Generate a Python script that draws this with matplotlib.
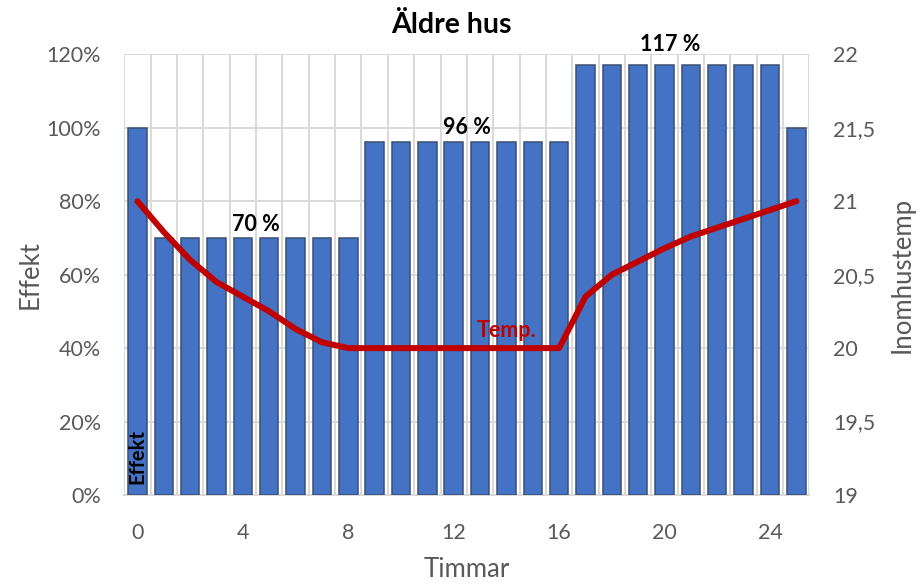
import matplotlib
matplotlib.use("Agg")
import matplotlib.pyplot as plt
from matplotlib.ticker import FuncFormatter, MultipleLocator

plt.rcParams['font.family'] = ['Lato', 'DejaVu Sans']

# Hourly heating power (fraction of nominal) and indoor temperature
hours = list(range(26))
effekt = [1.00] + [0.70] * 8 + [0.96] * 8 + [1.17] * 8 + [1.00]
temp = [21.0, 20.79, 20.60, 20.45, 20.35, 20.25, 20.13, 20.04, 20.0,
        20.0, 20.0, 20.0, 20.0, 20.0, 20.0, 20.0, 20.0,
        20.35, 20.50, 20.59, 20.68, 20.76, 20.82, 20.88, 20.94, 21.0]
x_ticks = [0, 4, 8, 12, 16, 20, 24]
level_x = [4.5, 12.5, 20.2]
level_values = [0.70, 0.96, 1.17]
level_text = ["70 %", "96 %", "117 %"]

BAR = "#4472C4"
BAR_EDGE = "#3A5070"
RED = "#C00000"
GRID = "#D9D9D9"
TXT = "#595959"

fig = plt.figure(figsize=(9.18, 5.84), dpi=100)
ax = fig.add_axes([0.1354, 0.1524, 0.8818 - 0.1354, 0.907 - 0.1524])

ax.bar(hours, effekt, width=0.70, color=BAR, edgecolor=BAR_EDGE,
       linewidth=1.1, zorder=3)
ax.set_xlim(-0.5, 25.5)
ax.set_ylim(0, 1.2)
ax.yaxis.set_major_locator(MultipleLocator(0.2))
ax.yaxis.set_major_formatter(FuncFormatter(lambda v, p: f"{v*100:.0f}%"))
ax.set_xticks(x_ticks)

# Gridlines at category boundaries and at every percentage step
for b in [h + 0.5 for h in range(-1, 26)]:
    ax.axvline(b, color=GRID, lw=1.4, zorder=1)
ax.grid(axis='y', color=GRID, lw=1.4, zorder=1)
ax.set_axisbelow(True)

for s in ax.spines.values():
    s.set_visible(False)
ax.spines['bottom'].set_visible(True)
ax.spines['bottom'].set_color(GRID)
ax.spines['bottom'].set_linewidth(1.4)

ax.tick_params(axis='both', length=0, labelsize=15.5, labelcolor=TXT)
ax.tick_params(axis='y', pad=17)
ax.tick_params(axis='x', pad=20)

ax.set_ylabel("Effekt", fontsize=18.5, color=TXT, va='center')
ax.yaxis.set_label_coords(-0.1375, 0.5)
ax.set_xlabel("Timmar", fontsize=18.5, color=TXT, labelpad=10)

ax2 = ax.twinx()
ax2.plot(hours, temp, color=RED, lw=4.3, solid_joinstyle='round',
         solid_capstyle='round', zorder=4)
ax2.set_ylim(19, 22)
ax2.yaxis.set_major_locator(MultipleLocator(0.5))
ax2.yaxis.set_major_formatter(
    FuncFormatter(lambda v, p: (f"{v:.1f}".rstrip('0').rstrip('.')).replace('.', ',')))
for s in ax2.spines.values():
    s.set_visible(False)
ax2.tick_params(axis='y', length=0, labelsize=15.5, labelcolor=TXT, pad=17)
ax2.set_ylabel("Inomhustemp", fontsize=18.5, color=TXT, labelpad=10)

# Level labels above each block of bars (offset in points)
label_offsets = [9.5, 11, 15]
for xv, yv, txt, off in zip(level_x, level_values, level_text, label_offsets):
    ax.annotate(txt, (xv, yv), xytext=(0, off),
                textcoords='offset points', ha='center', va='center',
                fontsize=15.5, fontweight='bold', color='black', zorder=6)

ax2.text(14.0, 20.05, "Temp.", color=RED, fontsize=15.5, fontweight='bold',
         ha='center', va='bottom', zorder=6)
ax.text(0, 0.03, "Effekt", rotation=90, fontsize=14.5, fontweight='bold',
        color='black', ha='center', va='bottom', zorder=6)

fig.text(0.492, 0.957, "Äldre hus", ha='center', va='center',
         fontsize=20.5, fontweight='bold', color='black')

fig.savefig("out.png", dpi=100)
